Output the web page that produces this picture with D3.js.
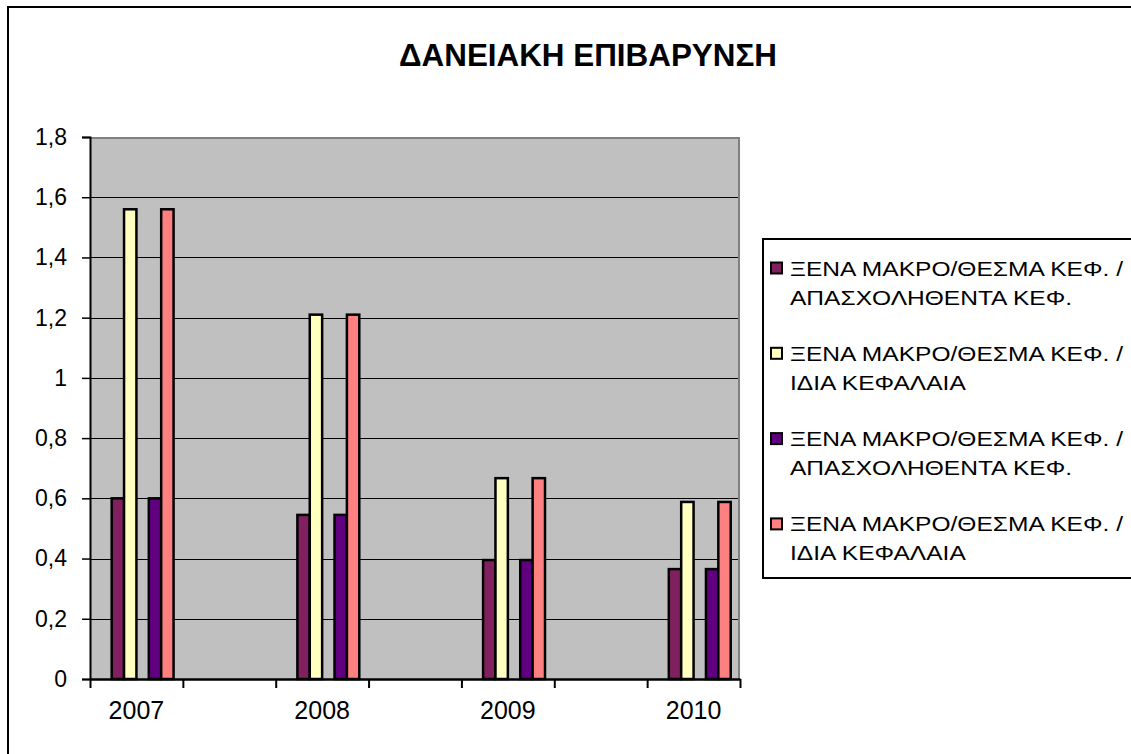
<!DOCTYPE html>
<html>
<head>
<meta charset="utf-8">
<script src="https://cdn.jsdelivr.net/npm/d3@7"></script>
<style>
  body { margin: 0; background: #fff; }
  text { font-family: "Liberation Sans", Arial, sans-serif; fill: #000; }
</style>
</head>
<body>
<svg id="chart"></svg>
<script>
// data
var categories = ["2007", "", "2008", "", "2009", "", "2010"];
var seriesNames = [
  ["ΞΕΝΑ ΜΑΚΡΟ/ΘΕΣΜΑ ΚΕΦ. /", "ΑΠΑΣΧΟΛΗΘΕΝΤΑ ΚΕΦ."],
  ["ΞΕΝΑ ΜΑΚΡΟ/ΘΕΣΜΑ ΚΕΦ. /", "ΙΔΙΑ ΚΕΦΑΛΑΙΑ"],
  ["ΞΕΝΑ ΜΑΚΡΟ/ΘΕΣΜΑ ΚΕΦ. /", "ΑΠΑΣΧΟΛΗΘΕΝΤΑ ΚΕΦ."],
  ["ΞΕΝΑ ΜΑΚΡΟ/ΘΕΣΜΑ ΚΕΦ. /", "ΙΔΙΑ ΚΕΦΑΛΑΙΑ"]
];
var s1 = [0.6, null, 0.545, null, 0.395, null, 0.365];
var s2 = [1.56, null, 1.21, null, 0.667, null, 0.588];
var s3 = [0.6, null, 0.545, null, 0.395, null, 0.365];
var s4 = [1.56, null, 1.21, null, 0.667, null, 0.588];
var yTicks = [0, 0.2, 0.4, 0.6, 0.8, 1, 1.2, 1.4, 1.6, 1.8];
var yTickLabels = ["0", "0,2", "0,4", "0,6", "0,8", "1", "1,2", "1,4", "1,6", "1,8"];
var title = "ΔΑΝΕΙΑΚΗ ΕΠΙΒΑΡΥΝΣΗ";

var series = [s1, s2, s3, s4];
var colors = ["#80205f", "#ffffc0", "#600080", "#ff8080"];
// excel-style cluster: six slots, the 1st and 4th stay empty
var slots = ["e1", "a", "b", "e2", "c", "d"];
var slotOf = ["a", "b", "c", "d"];

var width = 1131, height = 754;
var plot = {left: 90, right: 740, top: 137, bottom: 679};

var svg = d3.select("#chart")
    .attr("width", width)
    .attr("height", height);

svg.append("rect")
    .attr("width", width).attr("height", height)
    .attr("fill", "#fff");

// outer chart frame
svg.append("rect")
    .attr("x", 8).attr("y", 7)
    .attr("width", 1300).attr("height", 900)
    .attr("fill", "none")
    .attr("stroke", "#000")
    .attr("stroke-width", 2);

// scales
var x0 = d3.scaleBand()
    .domain(d3.range(categories.length))
    .range([plot.left, plot.right]);
var x1 = d3.scaleBand()
    .domain(slots)
    .range([0, x0.bandwidth()])
    .paddingOuter(0.75);
var y = d3.scaleLinear()
    .domain([0, 1.8])
    .range([plot.bottom, plot.top]);

// plot area
svg.append("rect")
    .attr("x", plot.left).attr("y", plot.top)
    .attr("width", plot.right - plot.left)
    .attr("height", plot.bottom - plot.top)
    .attr("fill", "#c0c0c0");

svg.append("g")
    .selectAll("line")
    .data(yTicks.slice(1, -1))
    .enter()
    .append("line")
    .attr("x1", plot.left).attr("x2", plot.right)
    .attr("y1", function(d){ return Math.round(y(d)) + 0.5; })
    .attr("y2", function(d){ return Math.round(y(d)) + 0.5; })
    .attr("stroke", "#000");

// gray border top & right
svg.append("path")
    .attr("d", "M" + plot.left + "," + (plot.top + 1) + "H" + (plot.right - 1) + "V" + plot.bottom)
    .attr("fill", "none")
    .attr("stroke", "#808080")
    .attr("stroke-width", 2);

// bars
var groups = svg.append("g")
    .selectAll("g")
    .data(series)
    .enter()
    .append("g")
    .attr("fill", function(d, i){ return colors[i]; });

groups.selectAll("rect")
    .data(function(d, i){
        return d.map(function(v, j){ return {v: v, cat: j, s: i}; })
            .filter(function(o){ return o.v != null; });
    })
    .enter()
    .append("rect")
    .attr("x", function(d){ return x0(d.cat) + x1(slotOf[d.s]); })
    .attr("width", x1.bandwidth())
    .attr("y", function(d){ return y(d.v); })
    .attr("height", function(d){ return y(0) - y(d.v); })
    .attr("stroke", "#000")
    .attr("stroke-width", 2.5);

// y axis
var yAxis = svg.append("g")
    .attr("transform", "translate(" + plot.left + ",0)")
    .call(d3.axisLeft(y)
        .tickValues(yTicks)
        .tickFormat(function(d, i){ return yTickLabels[i]; })
        .tickSize(8)
        .tickPadding(15));
yAxis.select(".domain").attr("stroke", "#000").attr("stroke-width", 2);
yAxis.selectAll("line").attr("stroke", "#000").attr("stroke-width", 1.5);
yAxis.selectAll("text")
    .style("font-family", "'Liberation Sans', Arial, sans-serif")
    .style("font-size", "23px")
    .attr("fill", "#000");

// x axis: ticks on category boundaries
var xb = d3.scaleLinear()
    .domain([0, categories.length])
    .range([plot.left, plot.right]);
var xTicks = svg.append("g")
    .attr("transform", "translate(0," + plot.bottom + ")")
    .call(d3.axisBottom(xb)
        .tickValues(d3.range(categories.length + 1))
        .tickFormat("")
        .tickSize(9)
        .tickSizeOuter(0));
xTicks.select(".domain").attr("stroke", "#000").attr("stroke-width", 2.5);
xTicks.selectAll("line").attr("stroke", "#000").attr("stroke-width", 2);

var xLabels = svg.append("g")
    .attr("transform", "translate(0," + plot.bottom + ")")
    .call(d3.axisBottom(x0)
        .tickFormat(function(i){ return categories[i]; })
        .tickSize(0)
        .tickPadding(22));
xLabels.select(".domain").remove();
xLabels.selectAll("text")
    .style("font-family", "'Liberation Sans', Arial, sans-serif")
    .style("font-size", "25px")
    .attr("fill", "#000");

// horizontally stretched text helper
function stretchedText(parent, str, x, yb, size, weight, targetW, anchor) {
    var g = parent.append("g");
    var t = g.append("text")
        .text(str)
        .style("font-size", size + "px")
        .style("font-weight", weight);
    var w = t.node().getComputedTextLength();
    var sx = targetW / w;
    var dx = anchor === "middle" ? -w / 2 : 0;
    t.attr("x", dx);
    g.attr("transform", "translate(" + x + "," + yb + ") scale(" + sx + ",1)");
    return sx;
}

// title
stretchedText(svg, title, 588, 66, 31, "bold", 378, "middle");

// legend
var legend = svg.append("g");
legend.append("rect")
    .attr("x", 763).attr("y", 239)
    .attr("width", 500).attr("height", 339)
    .attr("fill", "#fff")
    .attr("stroke", "#000")
    .attr("stroke-width", 2);

var item = legend.selectAll("g.item")
    .data(seriesNames)
    .enter()
    .append("g")
    .attr("class", "item")
    .attr("transform", function(d, i){ return "translate(0," + (268 + i * 85.3) + ")"; });

item.append("rect")
    .attr("x", 771).attr("y", -5.5)
    .attr("width", 11).attr("height", 11)
    .attr("fill", function(d, i){ return colors[i]; })
    .attr("stroke", "#000")
    .attr("stroke-width", 2);

item.each(function(d){
    var g = d3.select(this);
    var sx = stretchedText(g, d[0], 790, 7.5, 20.5, "normal", 333, "start");
    var g2 = g.append("g").attr("transform", "translate(790,36.5) scale(" + sx + ",1)");
    g2.append("text").text(d[1]).style("font-size", "20.5px");
});
</script>
</body>
</html>
